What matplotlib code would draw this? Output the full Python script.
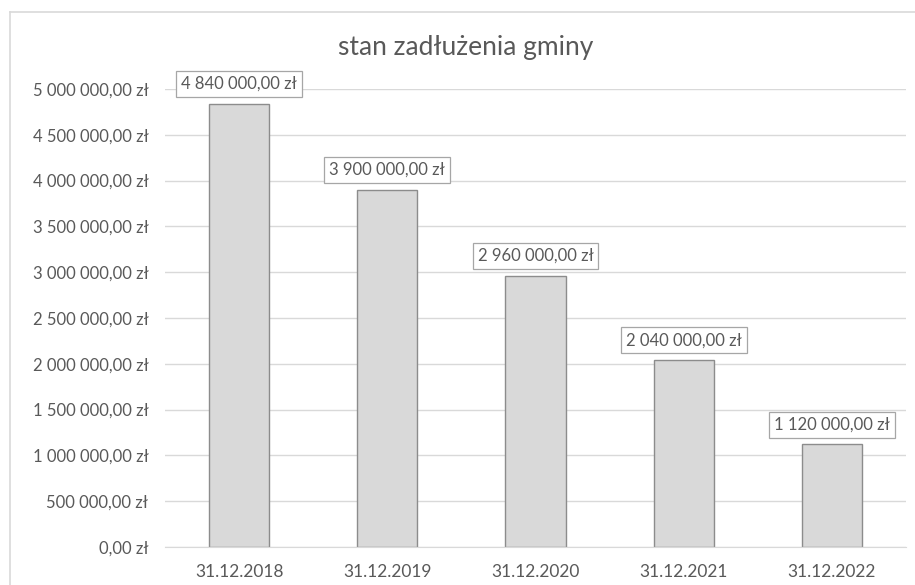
import matplotlib
matplotlib.use("Agg")
import matplotlib.pyplot as plt
from matplotlib.lines import Line2D

categories = ["31.12.2018", "31.12.2019", "31.12.2020", "31.12.2021", "31.12.2022"]
values = [4840000, 3900000, 2960000, 2040000, 1120000]
yticks = [0, 500000, 1000000, 1500000, 2000000, 2500000, 3000000, 3500000, 4000000, 4500000, 5000000]

def fmt(v):
    s = f"{v:,.2f}".replace(",", " ").replace(".", ",")
    return s + " zł"

plt.rcParams['font.family'] = ['Lato', 'DejaVu Sans']
TXT = "#595959"

fig = plt.figure(figsize=(9.15, 5.85), dpi=100)
W, H = 915, 585
ax = fig.add_axes([165 / W, 1 - 547 / H, (906 - 165) / W, (547 - 89) / H])

x = list(range(len(categories)))
ax.bar(x, values, width=0.405, color="#d9d9d9", edgecolor="#8c8c8c", linewidth=1.0, zorder=3)
ax.set_xlim(-0.5, len(categories) - 0.5)
ax.set_ylim(0, 5000000)
ax.set_yticks(yticks)
ax.set_yticklabels([fmt(v) for v in yticks], color=TXT, fontsize=12)
ax.set_xticks(x)
ax.set_xticklabels(categories, color=TXT, fontsize=12.5)
ax.tick_params(axis="y", length=0, pad=12)
ax.tick_params(axis="x", length=0, pad=12)
ax.grid(axis="y", color="#d9d9d9", linewidth=1.0, zorder=0)
for s in ["top", "right", "left"]:
    ax.spines[s].set_visible(False)
ax.spines["bottom"].set_color("#d9d9d9")
ax.spines["bottom"].set_zorder(4)

for xi, v in zip(x, values):
    ax.annotate(fmt(v), xy=(xi, v), xytext=(0, 8.5), textcoords="offset points",
                ha="center", va="bottom", fontsize=12, color=TXT, zorder=5,
                bbox=dict(boxstyle="square,pad=0.3", fc="white", ec="#a6a6a6", lw=0.9),
                annotation_clip=False)

fig.text(466 / W, 1 - 47 / H, "stan zadłużenia gminy", ha="center", va="center",
         fontsize=19, color=TXT)

fig.add_artist(Line2D([10 / W, 10 / W], [0, 1 - 12 / H], transform=fig.transFigure, color="#d9d9d9", lw=1.2))
fig.add_artist(Line2D([10 / W, 1], [1 - 12 / H, 1 - 12 / H], transform=fig.transFigure, color="#d9d9d9", lw=1.2))

fig.savefig("out.png", dpi=100)
